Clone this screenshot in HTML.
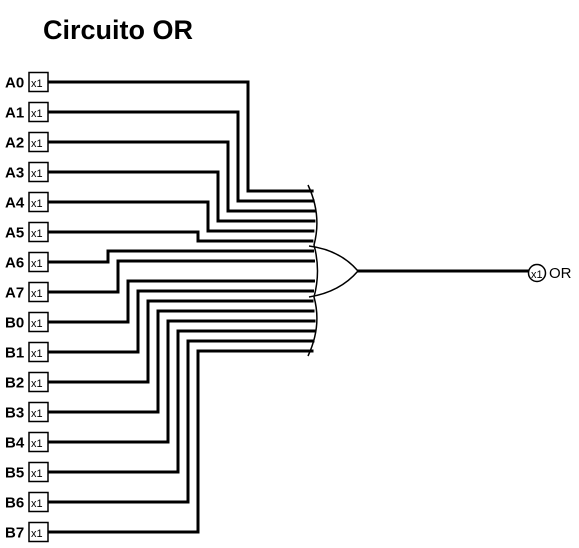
<!DOCTYPE html>
<html><head><meta charset="utf-8"><style>
body{margin:0;background:#fff;width:579px;height:548px;overflow:hidden}
svg{display:block}
text{font-family:"Liberation Sans",sans-serif}
</style></head><body>
<svg id="c" width="579" height="548">
<text x="43" y="39" font-size="27" font-weight="bold">Circuito OR</text>
<g id="wires" stroke="#000" stroke-width="3" fill="none"></g>
<path d="M308,185 Q322,215 314,245 Q321,271 314,297 Q322,326 308,356" stroke="#000" stroke-width="1.5" fill="none"/>
<path d="M309,246 Q340,250 358,271 Q340,292 309,297" stroke="#000" stroke-width="1.5" fill="none"/>
<line x1="357" y1="271" x2="529" y2="271" stroke="#000" stroke-width="3"/>
<circle cx="537" cy="273" r="8.5" stroke="#000" stroke-width="1.5" fill="#fff"/>
<text x="531" y="278" font-size="11">x1</text>
<text x="549" y="278" font-size="15">OR</text>
<g id="inputs"></g>
</svg>
<script>
const labels=["A0","A1","A2","A3","A4","A5","A6","A7","B0","B1","B2","B3","B4","B5","B6","B7"];
const verticalX=[248,238,228,218,208,198,108,118,128,138,148,158,168,178,188,198];
const NS="http://www.w3.org/2000/svg";
const wires=document.getElementById('wires'),inputs=document.getElementById('inputs');
labels.forEach((l,i)=>{
 const y=82+30*i;
 const gy=191+10*(i<8?i:i+1);
 const gx=316-Math.abs(gy-(gy<246?215:gy>296?326:271))*0.1;
 const p=document.createElementNS(NS,'path');
 p.setAttribute('d',`M48,${y} H${verticalX[i]} V${gy} H${gx}`);
 
 
 wires.appendChild(p);
 const t=document.createElementNS(NS,'text');
 t.setAttribute('x',5);t.setAttribute('y',y+5.5);t.setAttribute('font-size','15');t.setAttribute('font-weight','bold');
 t.textContent=l;
 
 
 inputs.appendChild(t);
 const r=document.createElementNS(NS,'rect');
 r.setAttribute('x',29);r.setAttribute('y',y-9.5);r.setAttribute('width',19);r.setAttribute('height',19);
 r.setAttribute('fill','#fff');r.setAttribute('stroke','#000');r.setAttribute('stroke-width','1.5');
 
 
 inputs.appendChild(r);
 const x=document.createElementNS(NS,'text');
 x.setAttribute('x',31);x.setAttribute('y',y+5);x.setAttribute('font-size','11');
 x.textContent='x1';
 
 
 inputs.appendChild(x);
});
</script>
</body></html>
